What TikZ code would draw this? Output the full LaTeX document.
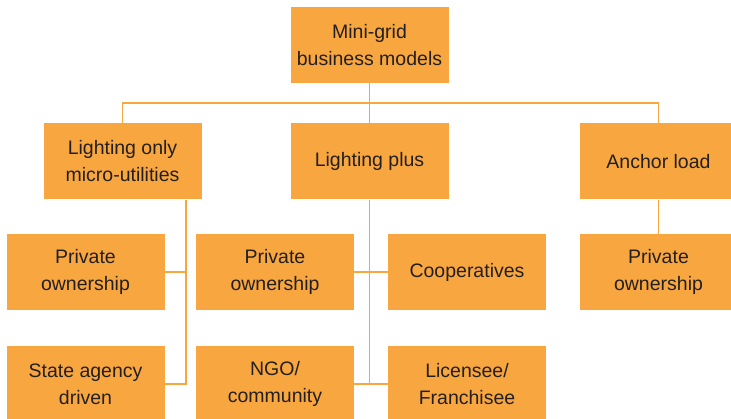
\documentclass[tikz,border=0pt]{standalone}
\usepackage{fontspec}
\setmainfont{Liberation Sans}
\definecolor{gridorange}{HTML}{F8A640}
\definecolor{inkgray}{HTML}{231F20}
\tikzset{
  model/.style={fill=gridorange, text=inkgray, minimum width=158pt, minimum height=76pt,
    align=center, inner sep=0pt, font=\fontsize{19.5}{27}\selectfont},
  link/.style={draw=gridorange, line width=1.4pt}
}
\begin{document}
\begin{tikzpicture}[x=1pt,y=-1pt]
\useasboundingbox (0,0) rectangle (731,419);
\node[model] (root) at (369.5,45) {Mini-grid\\business models};
\node[model] (lonly) at (122.5,161.5) {Lighting only\\micro-utilities};
\node[model] (lplus) at (369.5,161.5) {Lighting plus};
\node[model] (anchor) at (658.5,161.5) {Anchor load};
\node[model] (po1) at (85.5,272) {Private\\ownership};
\node[model] (state) at (85.5,384) {State agency\\driven};
\node[model] (po2) at (275,272) {Private\\ownership};
\node[model] (ngo) at (275,384) {NGO/\\community};
\node[model] (coop) at (467,272) {Cooperatives};
\node[model] (lic) at (467,384) {Licensee/\\Franchisee};
\node[model] (po3) at (658.5,272) {Private\\ownership};
\coordinate (bus) at (0,103);
\coordinate (trunk) at (186,0);
% top level
\draw[link] (root.south) -- (lplus.north);
\draw[link] (lonly.north) -- (lonly.north |- bus) -- (anchor.north |- bus) -- (anchor.north);
% lighting only
\draw[link] (lonly.south -| trunk) -- (trunk |- state.east) -- (state.east);
\draw[link] (po1.east) -- (po1.east -| trunk);
% lighting plus
\draw[link] (lplus.south) -- (lplus.south |- ngo.east);
\draw[link] (po2.east) -- (coop.west);
\draw[link] (ngo.east) -- (lic.west);
% anchor load
\draw[link] (anchor.south) -- (po3.north);
\end{tikzpicture}
\end{document}
